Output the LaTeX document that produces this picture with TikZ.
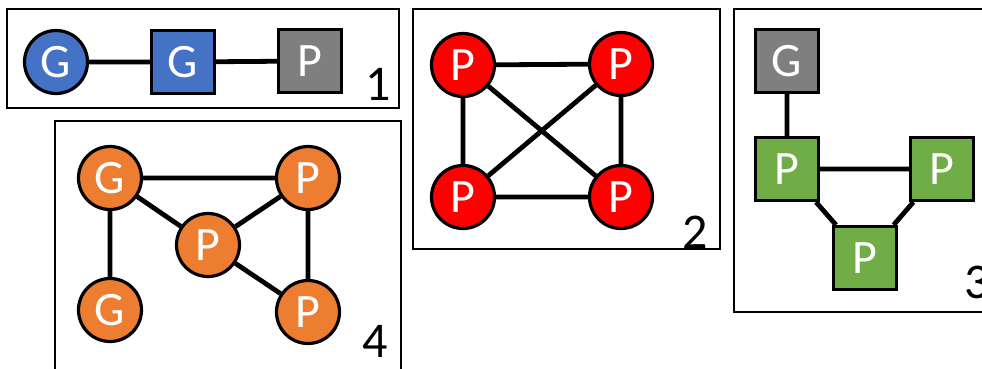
\documentclass[tikz,border=0pt]{standalone}
\usepackage{fontspec}
\setmainfont{Carlito}
\usepackage{xcolor}
\definecolor{vblue}{HTML}{4472C4}
\definecolor{vgray}{HTML}{7F7F7F}
\definecolor{vred}{HTML}{FF0000}
\definecolor{vgreen}{HTML}{70AD47}
\definecolor{vorange}{HTML}{ED7D31}

\begin{document}
\begin{tikzpicture}[x=1pt,y=-1pt,
  vtx/.style={draw,line width=3.2pt,inner sep=0pt,text=white,font=\fontsize{48}{48}\selectfont},
  rnd/.style={vtx,circle,minimum size=63pt},
  sqr/.style={vtx,rectangle,minimum size=63pt},
  link/.style={line width=4.8pt},
  frame/.style={line width=2.8pt},
  num/.style={inner sep=0pt,font=\fontsize{50}{50}\selectfont}]
  \useasboundingbox (0,0) rectangle (982,368);

  % panel 1: chain
  \draw[frame] (7,9) rectangle (399,108);
  \node[rnd,fill=vblue] (g1) at (56,62) {G};
  \node[sqr,fill=vblue] (g2) at (183,62) {G};
  \node[sqr,fill=vgray] (p1) at (310,61) {P};
  \draw[link] (g1) -- (g2) -- (p1);
  \node[num] (n1) at (378,84) {1};

  % panel 2: complete graph
  \draw[frame] (413,9) rectangle (720,249);
  \node[rnd,fill=vred] (a) at (463,65) {P};
  \node[rnd,fill=vred] (b) at (621,64) {P};
  \node[rnd,fill=vred] (c) at (463,197) {P};
  \node[rnd,fill=vred] (d) at (621,197) {P};
  \draw[link] (a) -- (b) -- (d) -- (c) -- (a) -- (d);
  \draw[link] (b) -- (c);
  \node[num] (n2) at (695,232) {2};

  % panel 3
  \draw[frame] (734,9) rectangle (995,312);
  \node[sqr,fill=vgray] (g3) at (787,61) {G};
  \node[sqr,fill=vgreen] (q1) at (787,169) {P};
  \node[sqr,fill=vgreen] (q2) at (942,169) {P};
  \node[sqr,fill=vgreen] (q3) at (865,258) {P};
  \draw[link] (g3) -- (q1) -- (q2) -- (q3) -- (q1);
  \node[num,anchor=west] (n3) at (964,282) {3};

  % panel 4
  \draw[frame] (55,121) rectangle (401,380);
  \node[rnd,fill=vorange] (h1) at (110,178) {G};
  \node[rnd,fill=vorange] (h2) at (110,310) {G};
  \node[rnd,fill=vorange] (r1) at (308,178) {P};
  \node[rnd,fill=vorange] (r2) at (208,245) {P};
  \node[rnd,fill=vorange] (r3) at (308,312) {P};
  \draw[link] (h2) -- (h1) -- (r1) -- (r3) -- (r2) -- (h1);
  \draw[link] (r2) -- (r1);
  \node[num] (n4) at (375,341) {4};
\end{tikzpicture}
\end{document}
